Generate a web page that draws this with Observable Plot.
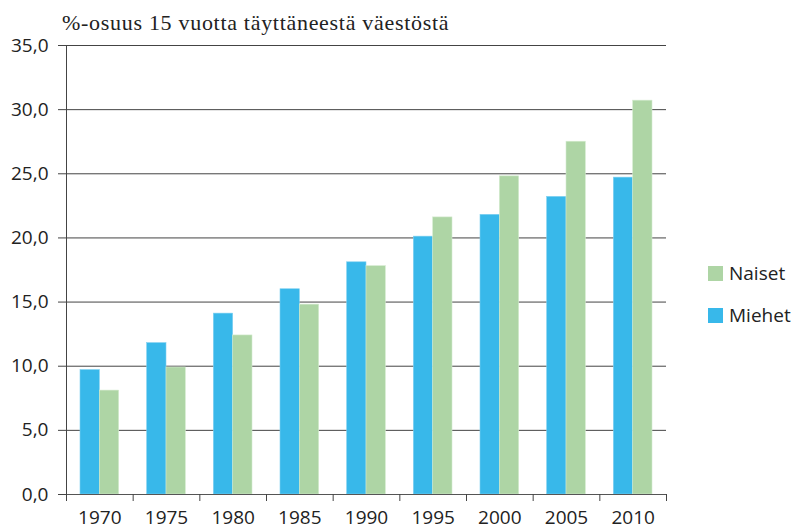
<!DOCTYPE html>
<html>
<head>
<meta charset="utf-8">
<script src="https://cdn.jsdelivr.net/npm/d3@7"></script>
<script src="https://cdn.jsdelivr.net/npm/@observablehq/plot@0.6"></script>
<style>
  html, body { margin: 0; padding: 0; background: #fff; }
  #wrap { position: relative; width: 792px; height: 529px; overflow: hidden; }
  #title { position: absolute; left: 62px; top: 12px; line-height: 22px; font-family: "Liberation Serif", serif; font-size: 22px; letter-spacing: 0.7px; color: #222; white-space: nowrap; }
  .leg { position: absolute; left: 708px; font-family: "Open Sans", sans-serif; font-size: 19px; color: #222; display: flex; align-items: center; }
  .sw { width: 15px; height: 15px; margin-right: 6px; }
  svg { position: absolute; left: 0; top: 0; }
</style>
</head>
<body>
<div id="wrap">
  <div id="title"></div>
</div>
<script>
const title = "%-osuus 15 vuotta täyttäneestä väestöstä";
const years = [1970, 1975, 1980, 1985, 1990, 1995, 2000, 2005, 2010];
const miehet = [9.7, 11.8, 14.1, 16.0, 18.1, 20.1, 21.8, 23.2, 24.7];
const naiset = [8.1, 9.9, 12.4, 14.8, 17.8, 21.6, 24.8, 27.5, 30.7];
const seriesNames = ["Naiset", "Miehet"];
const colors = {"Miehet": "#38b8ea", "Naiset": "#aed5a5"};
const yTicks = [0, 5, 10, 15, 20, 25, 30, 35];

const rows = [];
years.forEach((y, i) => {
  rows.push({year: y, sex: "Miehet", value: miehet[i], x1: y - 1.45, x2: y});
  rows.push({year: y, sex: "Naiset", value: naiset[i], x1: y, x2: y + 1.45});
});
const boundaries = years.map(y => y - 2.5).concat([years[years.length - 1] + 2.5]);
const fmt = d => d.toFixed(1).replace(".", ",");

const chart = Plot.plot({
  width: 792,
  height: 529,
  marginTop: 45,
  marginLeft: 66,
  marginRight: 126,
  marginBottom: 35,
  style: {fontFamily: "Open Sans, sans-serif", fontSize: "19px", color: "#222", background: "transparent", overflow: "visible"},
  x: {type: "linear", domain: [1967.5, 2012.5]},
  y: {domain: [0, 35]},
  marks: [
    Plot.ruleY(yTicks, {stroke: "#444", strokeWidth: 1}),
    Plot.rectY(rows, {x1: "x1", x2: "x2", y1: 0, y2: "value", fill: d => colors[d.sex], stroke: d => d.sex === "Miehet" ? "#7fd0f0" : "#d4ebcf", strokeWidth: 0.6}),
    Plot.ruleX([1967.5], {stroke: "#444"}),
    Plot.ruleY([0], {stroke: "#555"}),
    Plot.axisY({ticks: yTicks, tickFormat: fmt, tickSize: 8, tickPadding: 10, stroke: "#444", label: null}),
    Plot.axisX({ticks: boundaries, tickFormat: () => "", tickSize: 7, stroke: "#444", label: null}),
    Plot.axisX({ticks: years, tickFormat: d => String(d), tickSize: 0, tickPadding: 16, label: null})
  ]
});

const wrap = document.getElementById("wrap");
document.getElementById("title").textContent = title;
wrap.appendChild(chart);
const legTop = {"Naiset": 265, "Miehet": 307};
seriesNames.forEach(n => {
  const el = document.createElement("div");
  el.className = "leg";
  el.style.top = (legTop[n] - 5) + "px";
  el.innerHTML = `<span class="sw" style="background:${colors[n]}"></span><span>${n}</span>`;
  wrap.appendChild(el);
});
</script>
</body>
</html>
